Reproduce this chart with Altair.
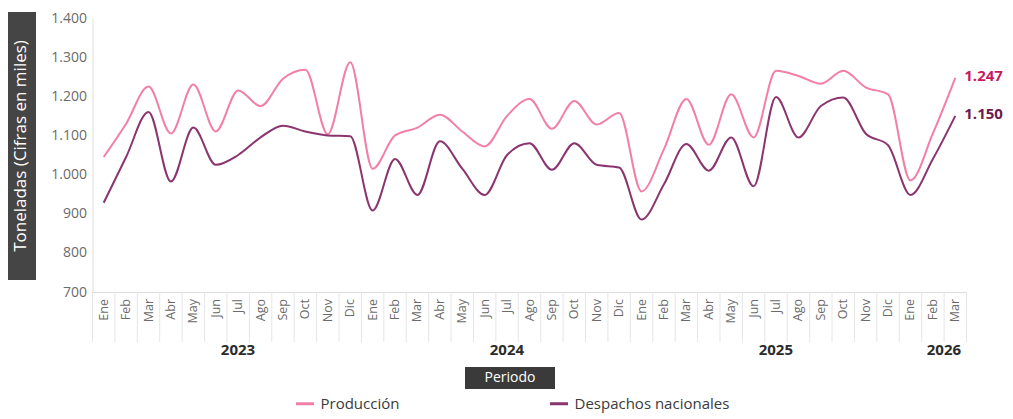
import altair as alt
import pandas as pd

meses = ["Ene", "Feb", "Mar", "Abr", "May", "Jun", "Jul", "Ago", "Sep", "Oct", "Nov", "Dic"] * 3 + ["Ene", "Feb", "Mar"]
anios = ["2023"] * 12 + ["2024"] * 12 + ["2025"] * 12 + ["2026"] * 3

produccion = [1045, 1130, 1225, 1105, 1230, 1110, 1215, 1175, 1245, 1268, 1103, 1287,
              1015, 1100, 1120, 1153, 1110, 1072, 1150, 1193, 1117, 1188, 1128, 1157,
              957, 1065, 1193, 1076, 1205, 1095, 1265, 1252, 1232, 1265, 1223, 1205,
              985, 1105, 1247]
despachos = [928, 1045, 1160, 982, 1120, 1025, 1050, 1095, 1125, 1110, 1100, 1098,
             908, 1040, 948, 1085, 1015, 948, 1050, 1080, 1012, 1080, 1025, 1018,
             885, 975, 1078, 1010, 1095, 970, 1198, 1095, 1175, 1197, 1105, 1075,
             948, 1040, 1150]

series = ["Producción", "Despachos nacionales"]
colores = ["#f27fa6", "#8a3470"]
colores_etiqueta = ["#c8195f", "#6e1a4e"]

n = len(meses)
rows = []
for s, vals in zip(series, [produccion, despachos]):
    for i in range(n):
        rows.append({"idx": i, "mes": meses[i], "anio": anios[i], "serie": s, "valor": vals[i]})
df = pd.DataFrame(rows)
df_meses = pd.DataFrame({"idx": list(range(n)), "mes": meses, "anio": anios})
df_bordes = pd.DataFrame({"b": [i - 0.5 for i in range(n + 1)]})

W, H = 874, 274
xscale = alt.Scale(domain=[-0.5, n - 0.5], nice=False, zero=False)
yscale = alt.Scale(domain=[700, 1400], nice=False, zero=False)
FONT = "Open Sans"

lines = alt.Chart(df).mark_line(interpolate="monotone", strokeWidth=2).encode(
    x=alt.X("idx:Q", scale=xscale,
            axis=alt.Axis(labels=False, ticks=False, grid=False, title=None,
                          domainColor="#dddddd")),
    y=alt.Y("valor:Q", scale=yscale,
            axis=alt.Axis(values=[700, 800, 900, 1000, 1100, 1200, 1300, 1400],
                          labelExpr="replace(format(datum.value, ','), ',', '.')",
                          labelOverlap=False, labelFlush=False,
                          ticks=False, grid=False, title=None, domainColor="#dddddd",
                          labelFontSize=14, labelColor="#6b6b6b", labelFont=FONT,
                          labelPadding=6)),
    color=alt.Color("serie:N", scale=alt.Scale(domain=series, range=colores),
                    sort=series,
                    legend=alt.Legend(orient="none", legendX=202, legendY=375,
                                      direction="horizontal", title=None,
                                      symbolType="stroke", symbolStrokeWidth=3,
                                      symbolSize=324, labelFontSize=15,
                                      labelFont=FONT, labelColor="#3a3a3a",
                                      columnPadding=144, labelOffset=5)),
)

end_labels = alt.Chart(df).transform_filter(f"datum.idx == {n - 1}").transform_calculate(
    txt="replace(format(datum.valor, ','), ',', '.')"
).mark_text(
    align="left", baseline="middle", dx=9, dy=-2, fontSize=15, fontWeight="bold", font=FONT
).encode(
    x=alt.X("idx:Q", scale=xscale, axis=None),
    y=alt.Y("valor:Q", scale=yscale, axis=None),
    text="txt:N",
    color=alt.Color("serie:N", scale=alt.Scale(domain=series, range=colores_etiqueta), legend=None),
)

seps = alt.Chart(df_bordes).mark_rule(color="#e6e6e6", strokeWidth=1).encode(
    x=alt.X("b:Q", scale=xscale, axis=None),
    y=alt.value(H),
    y2=alt.value(H + 50),
)

month_labels = alt.Chart(df_meses).mark_text(
    angle=270, align="right", baseline="middle", fontSize=12.5, color="#6b6b6b", font=FONT
).encode(
    x=alt.X("idx:Q", scale=xscale, axis=None),
    y=alt.value(H + 7),
    text="mes:N",
)

year_labels = alt.Chart(df_meses).transform_aggregate(
    c="mean(idx)", groupby=["anio"]
).mark_text(
    align="center", baseline="middle", fontSize=15, fontWeight="bold", color="#2b2b2b",
    font=FONT, dx=11
).encode(
    x=alt.X("c:Q", scale=xscale, axis=None),
    y=alt.value(H + 58),
    text="anio:N",
)

ytitle_df = pd.DataFrame({"t": ["Toneladas (Cifras en miles)"]})
ytitle_box = alt.Chart(ytitle_df).mark_rect(color="#454545").encode(
    x=alt.value(-87.5), x2=alt.value(-56.5), y=alt.value(-6), y2=alt.value(262)
)
ytitle_txt = alt.Chart(ytitle_df).mark_text(
    angle=270, align="center", baseline="middle", fontSize=17, color="white", font=FONT
).encode(x=alt.value(-72), y=alt.value(128), text="t:N")

xtitle_df = pd.DataFrame({"t": ["Periodo"]})
xtitle_box = alt.Chart(xtitle_df).mark_rect(color="#3a3a3a").encode(
    x=alt.value(372.5), x2=alt.value(462.5), y=alt.value(349), y2=alt.value(371)
)
xtitle_txt = alt.Chart(xtitle_df).mark_text(
    align="center", baseline="middle", fontSize=14, color="white", font=FONT
).encode(x=alt.value(417.5), y=alt.value(360), text="t:N")

chart = alt.layer(
    lines, seps, month_labels, year_labels, ytitle_box, ytitle_txt, xtitle_box, xtitle_txt,
    end_labels
).resolve_scale(color="independent").resolve_axis(x="independent", y="independent").properties(
    width=W, height=H,
    autosize=alt.AutoSizeParams(type="none"),
    padding={"left": 84.5, "top": 10, "right": 38, "bottom": 127},
).configure(background="white").configure_view(stroke=None)

chart.save("out.html", embed_options={"renderer": "svg", "actions": False})
